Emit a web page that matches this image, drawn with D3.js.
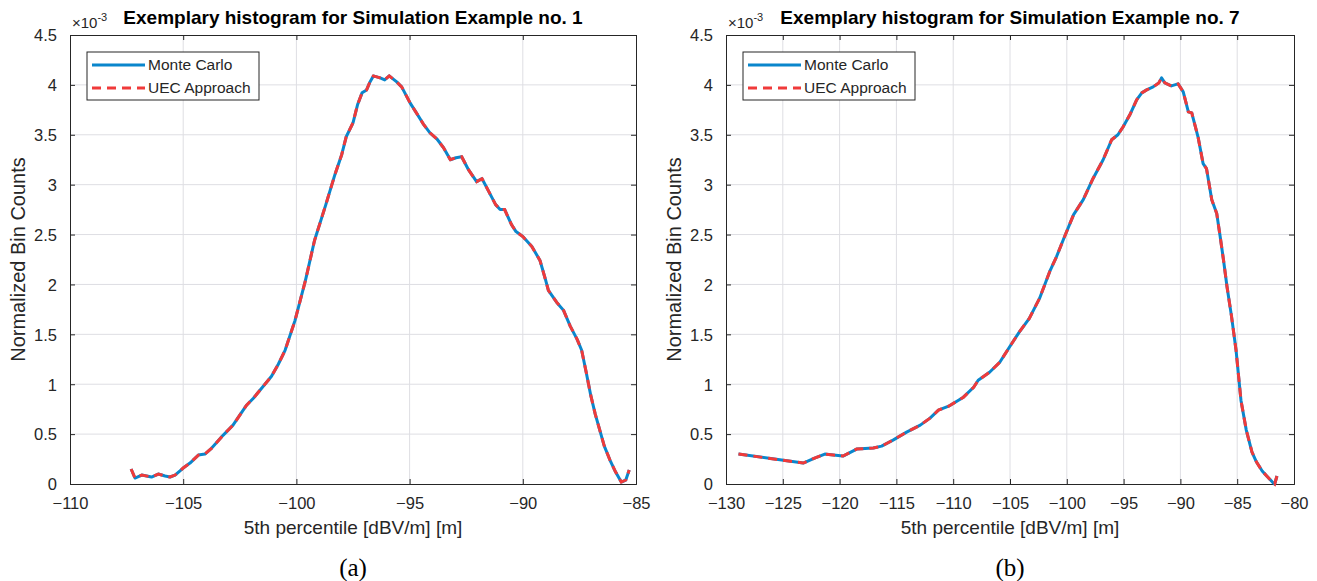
<!DOCTYPE html>
<html>
<head>
<meta charset="utf-8">
<script src="https://cdn.jsdelivr.net/npm/d3@7"></script>
<style>
body { margin: 0; background: #fff; }
svg text { font-family: "Liberation Sans", Arial, sans-serif; }
</style>
</head>
<body>
<script>
// panel (a): Simulation Example no. 1
var xA = [-107.3, -107.13, -106.83, -106.4, -106.1, -105.8, -105.58, -105.36, -105.0, -104.7,
  -104.33, -104.04, -103.74, -103.23, -102.8, -102.2, -101.9, -101.5, -101.1, -100.8,
  -100.5, -100.06, -99.6, -99.2, -98.7, -98.3, -98.0, -97.8, -97.5, -97.3,
  -97.1, -96.9, -96.75, -96.6, -96.3, -96.1, -95.9, -95.57, -95.35, -94.98,
  -94.7, -94.4, -94.1, -93.8, -93.5, -93.2, -92.95, -92.7, -92.4, -92.04,
  -91.8, -91.5, -91.2, -91.0, -90.8, -90.5, -90.3, -90.0, -89.6, -89.24,
  -89.0, -88.87, -88.5, -88.2, -87.9, -87.6, -87.4, -87.2, -87.0, -86.8,
  -86.6, -86.4, -86.15, -85.9, -85.65, -85.45, -85.3];
var mcA = [0.15, 0.06, 0.09, 0.07, 0.10, 0.08, 0.07, 0.09, 0.16, 0.21,
  0.29, 0.30, 0.36, 0.49, 0.59, 0.79, 0.86, 0.97, 1.08, 1.20,
  1.34, 1.64, 2.04, 2.44, 2.80, 3.10, 3.30, 3.48, 3.62, 3.80,
  3.92, 3.95, 4.03, 4.09, 4.07, 4.05, 4.09, 4.03, 3.98, 3.82,
  3.72, 3.61, 3.52, 3.46, 3.37, 3.25, 3.27, 3.28, 3.15, 3.03,
  3.06, 2.93, 2.80, 2.75, 2.75, 2.60, 2.53, 2.48, 2.38, 2.24,
  2.05, 1.94, 1.82, 1.74, 1.58, 1.45, 1.34, 1.12, 0.89, 0.70,
  0.54, 0.38, 0.24, 0.12, 0.02, 0.04, 0.14];
var uecA = [0.15, 0.06, 0.09, 0.07, 0.10, 0.08, 0.07, 0.09, 0.16, 0.21,
  0.29, 0.30, 0.36, 0.49, 0.59, 0.79, 0.86, 0.97, 1.08, 1.20,
  1.34, 1.64, 2.04, 2.44, 2.80, 3.10, 3.30, 3.48, 3.62, 3.80,
  3.92, 3.95, 4.03, 4.09, 4.07, 4.05, 4.09, 4.03, 3.98, 3.82,
  3.72, 3.61, 3.52, 3.46, 3.37, 3.25, 3.27, 3.28, 3.15, 3.03,
  3.06, 2.93, 2.80, 2.75, 2.75, 2.60, 2.53, 2.48, 2.38, 2.24,
  2.05, 1.94, 1.82, 1.74, 1.58, 1.45, 1.34, 1.12, 0.89, 0.70,
  0.54, 0.38, 0.24, 0.12, 0.02, 0.04, 0.14];

// panel (b): Simulation Example no. 7
var xB = [-128.9, -125.1, -123.2, -122.2, -121.3, -120.55, -119.7, -118.5, -117.03, -116.3,
  -115.3, -114.1, -112.9, -112.04, -111.3, -110.4, -109.1, -108.2, -107.8, -106.8,
  -105.9, -105.0, -104.2, -103.3, -102.4, -101.5, -100.9, -100.3, -99.4, -98.55,
  -97.7, -96.8, -96.05, -95.5, -95.04, -94.45, -93.85, -93.4, -92.97, -92.4,
  -91.9, -91.66, -91.37, -90.8, -90.2, -89.75, -89.3, -89.0, -88.45, -88.0,
  -87.7, -87.24, -86.8, -86.5, -86.2, -85.9, -85.5, -85.1, -84.67, -84.2,
  -83.7, -83.3, -82.8, -82.4, -81.9, -81.7, -81.5];
var mcB = [0.30, 0.24, 0.21, 0.26, 0.30, 0.29, 0.28, 0.35, 0.36, 0.38,
  0.44, 0.52, 0.59, 0.66, 0.74, 0.78, 0.87, 0.97, 1.04, 1.12,
  1.22, 1.38, 1.52, 1.66, 1.86, 2.13, 2.28, 2.45, 2.70, 2.85,
  3.06, 3.25, 3.45, 3.50, 3.58, 3.70, 3.85, 3.92, 3.95, 3.98,
  4.02, 4.07, 4.02, 3.99, 4.01, 3.93, 3.73, 3.72, 3.48, 3.21,
  3.16, 2.85, 2.71, 2.48, 2.24, 1.98, 1.68, 1.34, 0.84, 0.54,
  0.32, 0.22, 0.13, 0.08, 0.02, 0.00, 0.08];
var uecB = [0.30, 0.24, 0.21, 0.26, 0.30, 0.29, 0.28, 0.35, 0.36, 0.38,
  0.44, 0.52, 0.59, 0.66, 0.74, 0.78, 0.87, 0.97, 1.04, 1.12,
  1.22, 1.38, 1.52, 1.66, 1.86, 2.13, 2.28, 2.45, 2.70, 2.85,
  3.06, 3.25, 3.45, 3.50, 3.58, 3.70, 3.85, 3.92, 3.95, 3.98,
  4.02, 4.07, 4.02, 3.99, 4.01, 3.93, 3.73, 3.72, 3.48, 3.21,
  3.16, 2.85, 2.71, 2.48, 2.24, 1.98, 1.68, 1.34, 0.84, 0.54,
  0.32, 0.22, 0.13, 0.08, 0.02, 0.00, 0.08];

var xTicksA = [-110, -105, -100, -95, -90, -85];
var xTicksB = [-130, -125, -120, -115, -110, -105, -100, -95, -90, -85, -80];
var yTicks = [0, 0.5, 1, 1.5, 2, 2.5, 3, 3.5, 4, 4.5];
var seriesNames = ["Monte Carlo", "UEC Approach"];

var W = 1317, H = 581;
var svg = d3.select("body").append("svg")
  .attr("width", W)
  .attr("height", H);

var axisCol = "#262626";
var gridCol = "#dedee3";
var blue = "#0a86cc";
var red = "#f03a3a";

function panel(opt) {
  var left = opt.left, top = 35, w = opt.width, h = 449;
  var g = svg.append("g").attr("transform", "translate(" + left + "," + top + ")");

  var x = d3.scaleLinear().domain(opt.xDomain).range([0, w]);
  var y = d3.scaleLinear().domain([0, 4.5]).range([h, 0]);

  // grid
  g.append("g").selectAll("line").data(opt.xTicks.slice(1, -1)).enter()
    .append("line")
    .attr("x1", function(d) { return x(d); })
    .attr("x2", function(d) { return x(d); })
    .attr("y1", 0).attr("y2", h)
    .attr("stroke", gridCol).attr("stroke-width", 1);
  g.append("g").selectAll("line").data(yTicks.slice(1, -1)).enter()
    .append("line")
    .attr("y1", function(d) { return y(d); })
    .attr("y2", function(d) { return y(d); })
    .attr("x1", 0).attr("x2", w)
    .attr("stroke", gridCol).attr("stroke-width", 1);

  // axes (ticks point inward, matlab style)
  var xa = g.append("g").attr("transform", "translate(0," + h + ")")
    .call(d3.axisBottom(x).tickValues(opt.xTicks).tickSize(-5).tickPadding(13).tickFormat(d3.format("d")));
  var xt = g.append("g")
    .call(d3.axisTop(x).tickValues(opt.xTicks).tickSize(-5).tickFormat(""));
  var ya = g.append("g")
    .call(d3.axisLeft(y).tickValues(yTicks).tickSize(-5).tickPadding(13).tickFormat(function(d) { return d; }));
  var yr = g.append("g").attr("transform", "translate(" + w + ",0)")
    .call(d3.axisRight(y).tickValues(yTicks).tickSize(-5).tickFormat(""));
  [xa, xt, ya, yr].forEach(function(a) {
    a.select(".domain").attr("stroke", axisCol);
    a.selectAll(".tick line").attr("stroke", axisCol);
    a.selectAll("text").attr("fill", axisCol).style("font-size", "16.5px");
  });
  ya.selectAll("text").attr("dy", "0.35em");

  // curves
  var pts = function(ys) { return opt.xs.map(function(d, i) { return [d, ys[i]]; }); };
  var line = d3.line().x(function(d) { return x(d[0]); }).y(function(d) { return y(d[1]); });
  g.append("path").datum(pts(opt.mc))
    .attr("d", line).attr("fill", "none")
    .attr("stroke", blue).attr("stroke-width", 3).attr("stroke-linejoin", "round");
  g.append("path").datum(pts(opt.uec))
    .attr("d", line).attr("fill", "none")
    .attr("stroke", red).attr("stroke-width", 3).attr("stroke-dasharray", "9,6");

  // legend
  var lg = g.append("g").attr("transform", "translate(17,17)");
  lg.append("rect").attr("width", 172).attr("height", 48)
    .attr("fill", "#fff").attr("stroke", axisCol).attr("stroke-width", 1);
  seriesNames.forEach(function(name, i) {
    var yy = 13 + i * 23;
    lg.append("line").attr("x1", 5).attr("x2", 58).attr("y1", yy).attr("y2", yy)
      .attr("stroke", i ? red : blue).attr("stroke-width", 3)
      .attr("stroke-dasharray", i ? "9,6" : null);
    lg.append("text").attr("x", 61).attr("y", yy).attr("dy", "0.35em")
      .attr("fill", axisCol).style("font-size", "15.5px").text(name);
  });

  // exponent & title
  var ex = g.append("text").attr("x", 2).attr("y", -7).attr("fill", axisCol).style("font-size", "15px");
  ex.append("tspan").text("\u00d710");
  ex.append("tspan").attr("dy", -7).style("font-size", "11px").text("-3");
  g.append("text").attr("x", w / 2).attr("y", -11).attr("text-anchor", "middle")
    .attr("fill", "#000").style("font-size", "19px").style("font-weight", "bold")
    .text(opt.title);

  // axis labels
  g.append("text").attr("x", w / 2).attr("y", h + 50).attr("text-anchor", "middle")
    .attr("fill", axisCol).style("font-size", "19px").text("5th percentile [dBV/m] [m]");
  g.append("text").attr("transform", "translate(" + (-45) + "," + (h / 2) + ") rotate(-90)")
    .attr("text-anchor", "middle").attr("fill", axisCol).style("font-size", "20px")
    .text("Normalized Bin Counts");

  // caption
  g.append("text").attr("x", w / 2).attr("y", h + 92).attr("text-anchor", "middle")
    .attr("fill", "#000").style("font-size", "25px")
    .style("font-family", "'Liberation Serif', 'Times New Roman', serif")
    .text(opt.caption);
}

panel({ left: 70, width: 566, xDomain: [-110, -85], xTicks: xTicksA,
  xs: xA, mc: mcA, uec: uecA,
  title: "Exemplary histogram for Simulation Example no. 1", caption: "(a)" });
panel({ left: 726, width: 568, xDomain: [-130, -80], xTicks: xTicksB,
  xs: xB, mc: mcB, uec: uecB,
  title: "Exemplary histogram for Simulation Example no. 7", caption: "(b)" });
</script>
</body>
</html>
